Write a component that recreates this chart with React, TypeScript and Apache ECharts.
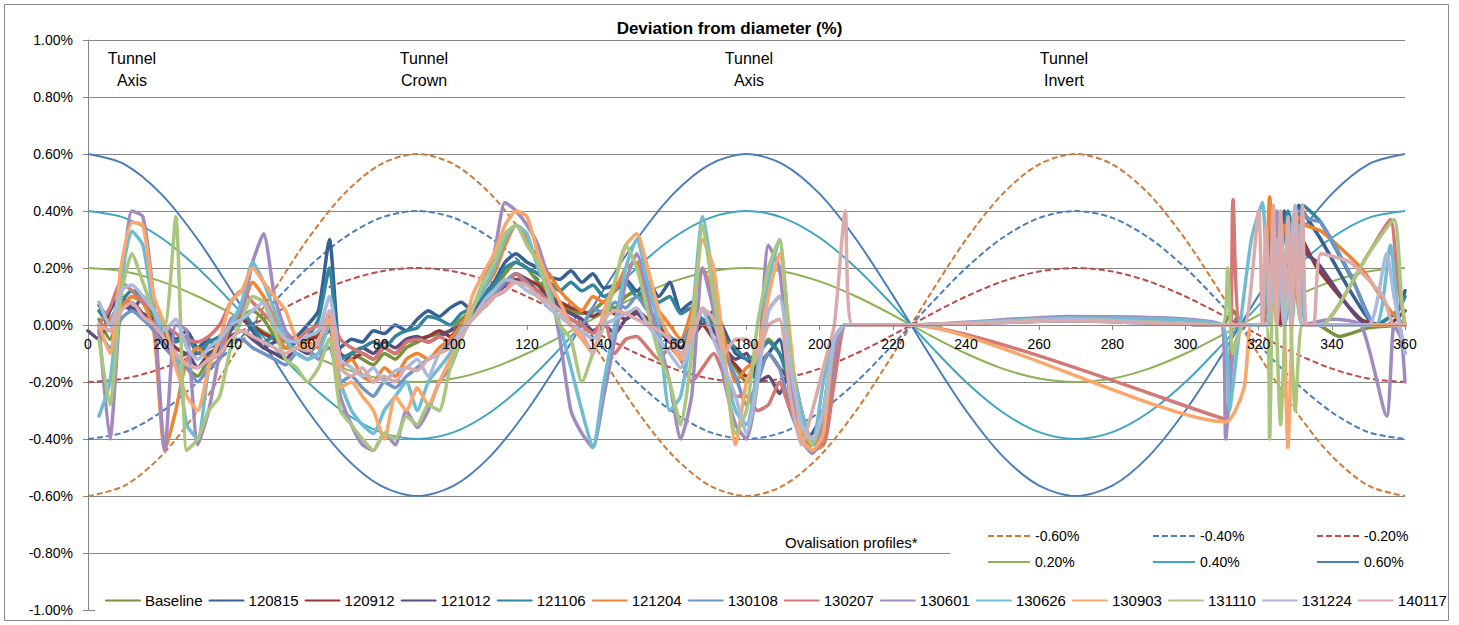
import React, { useEffect, useRef } from 'react';
import * as echarts from 'echarts';

// ---------- Ovalisation profiles (sampled every 10°) ----------
const PROFILE_ANGLES = [0, 10, 20, 30, 40, 50, 60, 70, 80, 90, 100, 110, 120, 130, 140, 150, 160, 170, 180,
  190, 200, 210, 220, 230, 240, 250, 260, 270, 280, 290, 300, 310, 320, 330, 340, 350, 360];

const PROF_NEG60 = [-0.600, -0.564, -0.460, -0.300, -0.104, 0.104, 0.300, 0.460, 0.564, 0.600, 0.564, 0.460, 0.300, 0.104, -0.104, -0.300, -0.460, -0.564, -0.600,
  -0.564, -0.460, -0.300, -0.104, 0.104, 0.300, 0.460, 0.564, 0.600, 0.564, 0.460, 0.300, 0.104, -0.104, -0.300, -0.460, -0.564, -0.600];
const PROF_NEG40 = [-0.400, -0.376, -0.306, -0.200, -0.069, 0.069, 0.200, 0.306, 0.376, 0.400, 0.376, 0.306, 0.200, 0.069, -0.069, -0.200, -0.306, -0.376, -0.400,
  -0.376, -0.306, -0.200, -0.069, 0.069, 0.200, 0.306, 0.376, 0.400, 0.376, 0.306, 0.200, 0.069, -0.069, -0.200, -0.306, -0.376, -0.400];
const PROF_NEG20 = [-0.200, -0.188, -0.153, -0.100, -0.035, 0.035, 0.100, 0.153, 0.188, 0.200, 0.188, 0.153, 0.100, 0.035, -0.035, -0.100, -0.153, -0.188, -0.200,
  -0.188, -0.153, -0.100, -0.035, 0.035, 0.100, 0.153, 0.188, 0.200, 0.188, 0.153, 0.100, 0.035, -0.035, -0.100, -0.153, -0.188, -0.200];
const PROF_POS20 = [0.200, 0.188, 0.153, 0.100, 0.035, -0.035, -0.100, -0.153, -0.188, -0.200, -0.188, -0.153, -0.100, -0.035, 0.035, 0.100, 0.153, 0.188, 0.200,
  0.188, 0.153, 0.100, 0.035, -0.035, -0.100, -0.153, -0.188, -0.200, -0.188, -0.153, -0.100, -0.035, 0.035, 0.100, 0.153, 0.188, 0.200];
const PROF_POS40 = [0.400, 0.376, 0.306, 0.200, 0.069, -0.069, -0.200, -0.306, -0.376, -0.400, -0.376, -0.306, -0.200, -0.069, 0.069, 0.200, 0.306, 0.376, 0.400,
  0.376, 0.306, 0.200, 0.069, -0.069, -0.200, -0.306, -0.376, -0.400, -0.376, -0.306, -0.200, -0.069, 0.069, 0.200, 0.306, 0.376, 0.400];
const PROF_POS60 = [0.600, 0.564, 0.460, 0.300, 0.104, -0.104, -0.300, -0.460, -0.564, -0.600, -0.564, -0.460, -0.300, -0.104, 0.104, 0.300, 0.460, 0.564, 0.600,
  0.564, 0.460, 0.300, 0.104, -0.104, -0.300, -0.460, -0.564, -0.600, -0.564, -0.460, -0.300, -0.104, 0.104, 0.300, 0.460, 0.564, 0.600];

// ---------- Measured deviations (%), angles 0..207 every 3° ----------
const ANGLES = [0, 3, 6, 9, 12, 15, 18, 21, 24, 27, 30, 33, 36, 39, 42, 45, 48, 51, 54, 57,
  60, 63, 66, 69, 72, 75, 78, 81, 84, 87, 90, 93, 96, 99, 102, 105, 108, 111, 114, 117,
  120, 123, 126, 129, 132, 135, 138, 141, 144, 147, 150, 153, 156, 159, 162, 165, 168, 171, 174, 177,
  180, 183, 186, 189, 192, 195, 198, 201, 204, 207];

const BASELINE = [null, 0.02, -0.05, 0.05, 0.10, 0.08, 0.02, -0.05, -0.10, -0.15,
  -0.18, -0.12, -0.08, 0.0, 0.03, 0.05, 0.02, -0.04, -0.08, -0.08,
  -0.05, -0.03, 0.0, -0.12, -0.10, -0.12, -0.14, -0.10, -0.12, -0.08,
  -0.06, -0.04, -0.03, -0.02, 0.02, 0.05, 0.08, 0.12, 0.18, 0.22,
  0.20, 0.15, 0.12, 0.08, 0.05, 0.04, 0.05, 0.08, 0.06, 0.10,
  0.12, 0.06, 0.0, -0.04, -0.08, -0.02, 0.05, 0.0, -0.08, -0.15,
  -0.20, -0.12, -0.05, -0.10, -0.18, -0.35, -0.42, -0.30, -0.05, 0.0];
const S120815 = [null, 0.07, 0.02, 0.08, 0.05, 0.10, 0.05, 0.0, -0.05, -0.02,
  -0.08, -0.05, -0.10, -0.02, 0.02, -0.02, -0.08, -0.06, -0.05, -0.04,
  0.0, 0.05, 0.30, -0.08, -0.05, -0.06, -0.02, -0.03, 0.0, -0.02,
  0.02, 0.05, 0.03, 0.06, 0.08, 0.05, 0.10, 0.15, 0.22, 0.25,
  0.22, 0.20, 0.17, 0.16, 0.19, 0.15, 0.18, 0.13, 0.14, 0.16,
  0.12, 0.15, 0.10, 0.15, 0.05, 0.08, 0.0, 0.05, -0.02, -0.10,
  -0.12, -0.15, -0.10, -0.05, -0.25, -0.40, -0.38, -0.30, -0.05, 0.0];
const S120912 = [null, 0.0, -0.02, 0.06, 0.08, 0.04, 0.02, -0.04, -0.08, -0.10,
  -0.10, -0.08, -0.05, 0.0, 0.02, 0.0, -0.03, -0.05, -0.08, -0.06,
  -0.05, -0.04, 0.02, -0.10, -0.12, -0.10, -0.12, -0.08, -0.10, -0.06,
  -0.05, -0.04, -0.02, -0.04, 0.0, 0.04, 0.06, 0.10, 0.15, 0.18,
  0.16, 0.14, 0.10, 0.08, 0.06, 0.05, 0.03, 0.05, 0.04, 0.02,
  0.05, 0.02, 0.0, -0.05, -0.10, -0.05, 0.0, -0.05, -0.10, -0.14,
  -0.18, -0.15, -0.10, -0.15, -0.20, -0.38, -0.40, -0.35, -0.08, 0.0];
const S121012 = [-0.02, -0.05, 0.05, 0.10, 0.06, 0.04, 0.0, -0.06, -0.12, -0.10,
  -0.15, -0.10, -0.08, -0.04, -0.02, -0.05, -0.08, -0.10, -0.12, -0.08,
  -0.10, -0.06, -0.02, -0.15, -0.10, -0.08, -0.10, -0.06, -0.08, -0.05,
  -0.04, -0.06, -0.04, -0.02, 0.0, 0.03, 0.08, 0.10, 0.14, 0.16,
  0.15, 0.12, 0.10, 0.06, 0.04, 0.02, -0.02, 0.0, -0.03, 0.02,
  0.04, 0.0, -0.02, -0.06, -0.08, -0.04, 0.02, -0.02, -0.08, -0.12,
  -0.10, -0.20, -0.18, -0.24, -0.15, -0.30, -0.42, -0.38, -0.10, 0.0];
const S121106 = [null, 0.05, 0.0, 0.08, 0.12, 0.10, 0.04, -0.02, -0.06, -0.04,
  -0.10, -0.06, -0.04, 0.0, 0.04, 0.0, -0.06, -0.04, -0.08, -0.06,
  -0.04, 0.02, 0.20, -0.12, -0.10, -0.08, -0.06, -0.08, -0.04, -0.02,
  -0.01, 0.03, 0.02, 0.0, 0.04, 0.06, 0.10, 0.14, 0.20, 0.22,
  0.20, 0.18, 0.15, 0.12, 0.15, 0.12, 0.14, 0.10, 0.12, 0.15,
  0.10, 0.13, 0.08, 0.10, 0.04, 0.06, 0.02, 0.0, -0.05, -0.08,
  -0.12, -0.10, -0.06, -0.10, -0.22, -0.38, -0.42, -0.32, -0.06, 0.0];
const S121204 = [null, -0.03, 0.02, 0.06, 0.10, 0.08, -0.02, -0.44, -0.30, -0.12,
  -0.08, -0.12, -0.10, 0.0, 0.05, 0.15, 0.10, 0.02, -0.08, -0.08,
  -0.06, -0.08, 0.0, -0.15, -0.12, -0.18, -0.20, -0.15, -0.18, -0.12,
  -0.10, -0.12, -0.08, -0.05, 0.0, 0.06, 0.12, 0.18, 0.28, 0.35,
  0.30, 0.22, 0.18, 0.12, 0.08, 0.05, 0.10, 0.08, 0.12, 0.20,
  0.22, 0.10, 0.05, 0.0, -0.05, 0.05, 0.20, 0.10, -0.05, -0.20,
  -0.15, -0.12, 0.05, 0.10, -0.10, -0.35, -0.44, -0.42, -0.15, 0.0];
const S130108 = [null, -0.02, -0.08, 0.02, 0.05, 0.02, -0.02, -0.08, -0.12, -0.15,
  -0.20, -0.15, -0.12, -0.05, -0.05, -0.08, -0.10, -0.12, -0.14, -0.10,
  -0.12, -0.10, -0.08, -0.20, -0.18, -0.22, -0.25, -0.20, -0.22, -0.18,
  -0.15, -0.12, -0.10, -0.06, -0.02, 0.02, 0.06, 0.10, 0.15, 0.18,
  0.15, 0.10, 0.08, 0.05, 0.02, 0.0, 0.06, 0.04, 0.08, 0.06,
  0.10, 0.05, 0.02, -0.04, -0.06, 0.0, 0.05, 0.02, -0.10, -0.18,
  -0.28, -0.20, -0.10, -0.15, -0.30, -0.40, -0.45, -0.38, -0.12, 0.0];
const S130207 = [null, 0.0, 0.06, 0.15, 0.12, 0.08, 0.05, 0.0, -0.03, -0.05,
  -0.06, -0.04, 0.0, 0.08, 0.12, 0.08, 0.04, 0.0, -0.04, -0.05,
  -0.02, 0.0, 0.03, -0.05, -0.08, -0.10, -0.12, -0.08, -0.10, -0.06,
  -0.05, -0.06, -0.04, -0.06, -0.02, 0.02, 0.06, 0.10, 0.12, 0.18,
  0.14, 0.12, 0.08, 0.05, 0.02, 0.0, -0.03, 0.02, -0.10, -0.05,
  -0.04, -0.08, -0.12, -0.08, -0.12, -0.20, -0.15, -0.10, -0.18, -0.25,
  -0.25, -0.30, -0.28, -0.20, -0.30, -0.35, -0.40, -0.42, -0.20, 0.0];
const S130601 = [null, 0.0, -0.40, 0.10, 0.40, 0.38, 0.08, -0.44, 0.0, -0.02,
  -0.42, -0.30, -0.10, 0.02, 0.05, 0.22, 0.32, 0.10, -0.02, -0.06,
  -0.08, -0.12, -0.05, -0.25, -0.35, -0.42, -0.44, -0.38, -0.42, -0.30,
  -0.36, -0.30, -0.20, -0.15, -0.05, 0.05, 0.15, 0.25, 0.43, 0.40,
  0.35, 0.28, 0.15, -0.05, -0.30, -0.38, -0.43, -0.25, -0.05, 0.15,
  0.25, 0.10, -0.05, -0.20, -0.40, -0.25, 0.20, 0.05, -0.20, -0.35,
  -0.40, -0.20, 0.28, 0.20, -0.20, -0.40, -0.45, -0.35, -0.10, 0.0];
const S130626 = [null, -0.32, -0.20, 0.15, 0.33, 0.28, 0.05, -0.05, -0.10, -0.35,
  -0.40, -0.15, -0.05, 0.0, 0.08, 0.22, 0.15, 0.05, -0.05, -0.10,
  -0.12, -0.10, 0.0, -0.20, -0.30, -0.35, -0.38, -0.30, -0.25, -0.20,
  -0.30, -0.20, -0.15, -0.10, -0.02, 0.06, 0.12, 0.20, 0.30, 0.35,
  0.32, 0.20, 0.12, 0.0, -0.15, -0.30, -0.43, -0.20, 0.0, 0.20,
  0.30, 0.15, 0.0, -0.30, -0.25, 0.0, 0.38, 0.15, -0.15, -0.30,
  -0.35, -0.15, 0.15, 0.30, -0.10, -0.30, -0.42, -0.20, -0.05, 0.0];
const S130903 = [null, 0.0, -0.10, 0.20, 0.36, 0.35, 0.10, 0.0, -0.15, -0.25,
  -0.30, -0.15, -0.05, 0.08, 0.12, 0.20, 0.15, 0.10, 0.05, -0.05,
  -0.08, -0.05, 0.02, -0.22, -0.20, -0.25, -0.30, -0.40, -0.25, -0.30,
  -0.22, -0.28, -0.20, -0.12, -0.05, 0.10, 0.18, 0.25, 0.35, 0.40,
  0.38, 0.25, 0.15, 0.08, 0.0, -0.05, -0.10, 0.05, 0.15, 0.28,
  0.32, 0.20, 0.05, -0.05, -0.12, 0.0, 0.30, 0.20, -0.10, -0.42,
  -0.20, -0.10, 0.10, 0.25, -0.05, -0.40, -0.44, -0.38, -0.05, 0.0];
const S131110 = [null, -0.05, -0.28, 0.10, 0.25, 0.15, 0.05, 0.0, 0.38, -0.44,
  -0.40, -0.30, -0.25, -0.08, 0.02, 0.10, 0.08, -0.02, -0.12, -0.15,
  -0.20, -0.15, -0.05, -0.30, -0.35, -0.40, -0.44, -0.38, -0.40, -0.32,
  -0.35, -0.28, -0.30, -0.15, -0.05, 0.05, 0.15, 0.22, 0.32, 0.35,
  0.28, 0.22, 0.10, 0.0, -0.05, -0.20, -0.10, 0.0, 0.15, 0.28,
  0.20, 0.05, -0.10, -0.20, -0.35, -0.10, 0.35, 0.10, -0.15, -0.38,
  -0.30, 0.0, 0.20, 0.30, -0.10, -0.35, -0.42, -0.30, -0.05, 0.0];
const S131224 = [null, 0.08, 0.0, 0.12, 0.14, 0.10, 0.05, -0.02, 0.02, -0.08,
  -0.12, -0.08, -0.05, 0.0, 0.02, 0.05, 0.08, 0.0, -0.05, -0.06,
  -0.04, -0.02, 0.10, -0.12, -0.15, -0.18, -0.15, -0.20, -0.16, -0.15,
  -0.12, -0.18, -0.10, -0.08, -0.02, 0.02, 0.08, 0.12, 0.16, 0.15,
  0.12, 0.10, 0.06, 0.03, 0.0, -0.02, -0.05, 0.0, 0.02, 0.04,
  0.06, 0.0, -0.05, -0.10, -0.15, -0.05, 0.05, -0.05, -0.15, -0.25,
  -0.38, -0.20, 0.05, 0.10, -0.15, -0.35, -0.40, -0.30, -0.05, 0.0];
const S140117 = [null, 0.0, -0.02, 0.05, 0.08, 0.03, 0.0, -0.05, -0.10, -0.14,
  -0.15, -0.12, -0.10, -0.05, -0.02, -0.04, -0.06, -0.08, -0.10, -0.08,
  -0.09, -0.06, 0.05, -0.15, -0.18, -0.15, -0.20, -0.18, -0.20, -0.15,
  -0.16, -0.12, -0.10, -0.08, -0.04, 0.02, 0.06, 0.10, 0.12, 0.15,
  0.14, 0.10, 0.08, 0.05, 0.0, -0.03, -0.10, 0.02, 0.05, 0.04,
  0.02, 0.0, -0.02, -0.05, -0.10, -0.04, 0.06, 0.02, -0.10, -0.05,
  -0.05, -0.10, 0.0, 0.02, -0.25, -0.42, -0.30, -0.15, 0.0, 0.40];

// ---------- Measured deviations beyond 207° as [angle, value] ----------
const BASELINE_TAIL = [[210, 0], [225, 0], [268, 0.02], [310, 0], [313, 0.05], [316, 0], [322, 0], [324, 0.3], [326, 0], [329, 0.25], [332, 0], [336, 0], [342, -0.04], [350, -0.01], [360, 0]];
const T120815 = [[210, 0], [225, 0], [268, 0.015], [310, 0], [314, 0], [321, 0], [323, 0.38], [325, 0.1], [327, 0.4], [329, 0.15], [331, 0.42], [333, 0.38], [337, 0.3], [345, 0.12], [352, 0], [358, 0.05], [360, 0.12]];
const T120912 = [[210, 0], [225, 0], [268, 0.02], [310, 0], [315, 0], [322, 0], [324, 0.3], [326, 0], [330, 0.35], [332, 0.3], [336, 0.2], [348, 0.02], [355, 0], [360, 0.05]];
const T121012 = [[210, 0], [225, 0], [268, 0.02], [310, 0], [316, 0], [322, 0], [325, 0.28], [327, 0], [331, 0.35], [333, 0.25], [336, 0.22], [350, 0], [360, 0]];
const T121106 = [[210, 0], [225, 0], [268, 0.02], [310, 0], [316, 0], [322, 0], [324, 0.35], [326, 0.25], [328, 0.4], [330, 0.3], [332, 0.42], [334, 0.4], [337, 0.36], [346, 0.15], [352, 0], [358, 0.05], [360, 0.1]];
const T121204 = [[210, 0], [225, 0], [268, 0.02], [310, 0], [316, 0], [321, 0], [323, 0.45], [325, 0], [327, 0.35], [329, 0.3], [331, 0.38], [333, 0.35], [337, 0.33], [348, 0.2], [356, 0.05], [360, 0]];
const T130108 = [[210, 0], [225, 0], [268, 0.02], [310, 0], [316, 0], [322, 0], [324, 0.3], [326, 0.1], [329, 0.35], [331, 0.4], [334, 0.37], [337, 0.36], [345, 0.18], [352, 0], [360, 0]];
const T130207 = [[210, 0], [225, 0], [311, -0.33], [313, 0.44], [315, 0], [322, 0], [325, 0.35], [327, 0], [330, 0.3], [332, 0], [337, 0], [350, 0.25], [356, 0.37], [358, 0.15], [360, 0]];
const T130601 = [[210, 0], [225, 0], [268, 0.03], [310, 0], [311, -0.4], [313, -0.1], [316, 0], [322, 0], [325, 0.4], [327, 0], [330, 0.3], [332, 0], [340, 0.02], [348, 0], [355, -0.32], [357, 0], [359, -0.05], [360, -0.2]];
const T130626 = [[210, 0], [225, 0], [268, 0.025], [310, 0], [312, -0.3], [314, -0.1], [318, 0.3], [321, 0.43], [323, 0], [326, 0.3], [329, 0], [331, 0.35], [333, 0], [340, 0], [352, 0], [356, 0.28], [358, 0.05], [360, -0.1]];
const T130903 = [[210, 0], [225, 0], [311, -0.34], [316, -0.22], [318, 0], [322, 0], [326, 0.3], [328, -0.43], [330, 0.3], [332, 0], [340, 0], [350, 0], [360, 0]];
const T131110 = [[210, 0], [225, 0], [268, 0.02], [310, 0], [311.5, 0.2], [313, -0.1], [316, 0], [322, 0], [323, -0.4], [324, 0.3], [326, -0.35], [328, 0.2], [330, -0.3], [332, 0], [337, 0], [350, 0.25], [357, 0.37], [359, 0.1], [360, 0]];
const T131224 = [[210, 0], [225, 0], [268, 0.02], [310, 0], [316, 0], [322, 0], [325, 0.3], [327, 0], [330, 0.42], [332, 0], [336, 0], [350, 0], [355, 0.25], [357, 0.1], [360, -0.1]];
const T140117 = [[209, 0], [225, 0], [268, 0.015], [310, 0], [316, 0], [320, 0.4], [321, 0], [322, 0.35], [323, 0.05], [324, 0.42], [325, 0], [326, 0.4], [327, 0.1], [328, 0.38], [329, 0], [330, 0.4], [331, 0.05], [332, 0.42], [333, 0], [335, 0], [337, 0.25], [345, 0.22], [354, 0.1], [357, 0], [360, 0]];

const MEASURED_NAMES = ['Baseline', '120815', '120912', '121012', '121106', '121204', '130108', '130207', '130601', '130626', '130903', '131110', '131224', '140117'];
const MEASURED_MAIN = [BASELINE, S120815, S120912, S121012, S121106, S121204, S130108, S130207, S130601, S130626, S130903, S131110, S131224, S140117];
const MEASURED_TAIL = [BASELINE_TAIL, T120815, T120912, T121012, T121106, T121204, T130108, T130207, T130601, T130626, T130903, T131110, T131224, T140117];
const MEASURED_COLORS = ['#77933c', '#376092', '#953735', '#604a7b', '#31859c', '#ee8534', '#7094c6', '#d37876', '#a08ac0', '#70bcd3', '#fba66a', '#a9c67e', '#aabada', '#dbaaaa'];

const PROFILE_NAMES = ['-0.60%', '-0.40%', '-0.20%', '0.20%', '0.40%', '0.60%'];
const PROFILE_VALUES = [PROF_NEG60, PROF_NEG40, PROF_NEG20, PROF_POS20, PROF_POS40, PROF_POS60];
const PROFILE_COLORS = ['#d07a35', '#4a7ebb', '#be4b48', '#8db255', '#3fa5c2', '#4a7ebb'];
const PROFILE_DASHED = [true, true, true, false, false, false];

const Y_MIN = -1;
const Y_MAX = 1;
const Y_STEP = 0.2;
const X_MIN = 0;
const X_MAX = 360;
const X_STEP = 20;

const TITLE = 'Deviation from diameter (%)';
const ZONE_LABELS = [
  { text: 'Tunnel\nAxis', x: 132 },
  { text: 'Tunnel\nCrown', x: 424 },
  { text: 'Tunnel\nAxis', x: 749 },
  { text: 'Tunnel\nInvert', x: 1064 },
];

const FONT = '"Liberation Sans", Arial, sans-serif';
const GRID_TOP = 40;
const GRID_BOTTOM_PX = 610;

export default function App() {
  const ref = useRef<HTMLDivElement>(null);

  useEffect(() => {
    document.body.style.margin = '0';
    if (!ref.current) return;
    const chart = echarts.init(ref.current, null, { renderer: 'svg' });

    const profileSeries = PROFILE_NAMES.map((name, k) => ({
      name,
      type: 'line',
      data: PROFILE_ANGLES.map((a, i) => [a, PROFILE_VALUES[k][i]]),
      smooth: 0.3,
      symbol: 'none',
      z: 1,
      itemStyle: { color: PROFILE_COLORS[k] },
      lineStyle: {
        color: PROFILE_COLORS[k],
        width: 2,
        type: PROFILE_DASHED[k] ? [6, 3] : 'solid',
      },
    }));

    const measuredSeries = MEASURED_NAMES.map((name, k) => {
      const main = ANGLES.map((a, i) => [a, MEASURED_MAIN[k][i]]).filter((p) => p[1] !== null);
      return {
        name,
        type: 'line',
        data: main.concat(MEASURED_TAIL[k] as any),
        smooth: 0.2,
        symbol: 'none',
        z: 2,
        itemStyle: { color: MEASURED_COLORS[k] },
        lineStyle: { color: MEASURED_COLORS[k], width: 3.5, cap: 'round', join: 'round' },
      };
    });

    const legendText = { fontFamily: FONT, fontSize: 15, color: '#000' };
    const ovalText = { fontFamily: FONT, fontSize: 14, color: '#000' };
    const hiddenSymbol = { opacity: 0, borderWidth: 0 };
    const zeroOffset = -(GRID_BOTTOM_PX - GRID_TOP) / 2;

    chart.setOption({
      animation: false,
      backgroundColor: '#fff',
      title: {
        text: TITLE,
        left: 'center',
        top: 20,
        padding: 0,
        textStyle: { fontFamily: FONT, fontSize: 17, fontWeight: 'bold', color: '#000' },
      },
      grid: {
        left: 88,
        right: 54,
        top: GRID_TOP,
        bottom: 625 - GRID_BOTTOM_PX,
        containLabel: false,
        outerBoundsMode: 'none',
      },
      xAxis: {
        type: 'value',
        min: X_MIN,
        max: X_MAX,
        interval: X_STEP,
        position: 'bottom',
        offset: zeroOffset,
        z: 10,
        axisLine: { onZero: false, lineStyle: { color: '#868686', width: 1 } },
        axisTick: { show: true, length: 5, lineStyle: { color: '#868686' } },
        axisLabel: { margin: 12, fontFamily: FONT, fontSize: 14, color: '#000', showMinLabel: true, showMaxLabel: true, hideOverlap: false },
        splitLine: { show: false },
      },
      yAxis: {
        type: 'value',
        min: Y_MIN,
        max: Y_MAX,
        interval: Y_STEP,
        axisLine: { show: true, lineStyle: { color: '#868686', width: 1 } },
        axisTick: { show: true, length: 5, lineStyle: { color: '#868686' } },
        axisLabel: {
          margin: 15,
          fontFamily: FONT,
          fontSize: 14,
          color: '#000',
          formatter: (v: number) => v.toFixed(2) + '%',
        },
        splitLine: { show: true, lineStyle: { color: '#868686', width: 1 } },
      },
      legend: [
        {
          data: MEASURED_NAMES,
          left: 105,
          top: 593,
          padding: 0,
          itemWidth: 34,
          itemHeight: 14,
          itemGap: 6,
          itemStyle: hiddenSymbol,
          textStyle: legendText,
        },
        {
          data: [PROFILE_NAMES[0], PROFILE_NAMES[3]],
          orient: 'vertical',
          left: 987,
          top: 529,
          padding: 0,
          itemWidth: 42,
          itemHeight: 14,
          itemGap: 12,
          itemStyle: hiddenSymbol,
          textStyle: ovalText,
        },
        {
          data: [PROFILE_NAMES[1], PROFILE_NAMES[4]],
          orient: 'vertical',
          left: 1152,
          top: 529,
          padding: 0,
          itemWidth: 42,
          itemHeight: 14,
          itemGap: 12,
          itemStyle: hiddenSymbol,
          textStyle: ovalText,
        },
        {
          data: [PROFILE_NAMES[2], PROFILE_NAMES[5]],
          orient: 'vertical',
          left: 1316,
          top: 529,
          padding: 0,
          itemWidth: 42,
          itemHeight: 14,
          itemGap: 12,
          itemStyle: hiddenSymbol,
          textStyle: ovalText,
        },
      ],
      graphic: [
        {
          type: 'rect',
          z: 3,
          silent: true,
          shape: { x: 950, y: 515, width: 462, height: 65 },
          style: { fill: '#fff' },
        },
        {
          type: 'rect',
          z: 3,
          silent: true,
          shape: { x: 95, y: 588, width: 1350, height: 26 },
          style: { fill: '#fff' },
        },
        {
          type: 'rect',
          z: 6,
          silent: true,
          shape: { x: 4.5, y: 4.5, width: 1444, height: 616 },
          style: { fill: 'none', stroke: '#898989', lineWidth: 1 },
        },
        {
          type: 'text',
          z: 6,
          x: 785,
          y: 542,
          style: {
            text: 'Ovalisation profiles*',
            font: `15px ${FONT}`,
            fill: '#000',
            textAlign: 'left',
            textVerticalAlign: 'middle',
          },
        },
        ...ZONE_LABELS.map((l) => ({
          type: 'text',
          z: 6,
          x: l.x,
          y: 69,
          style: {
            text: l.text,
            font: `16px ${FONT}`,
            lineHeight: 22,
            fill: '#000',
            textAlign: 'center',
            textVerticalAlign: 'middle',
          },
        })),
      ],
      series: [...profileSeries, ...measuredSeries],
    });

    return () => chart.dispose();
  }, []);

  return <div ref={ref} style={{ width: 1459, height: 625 }} />;
}
